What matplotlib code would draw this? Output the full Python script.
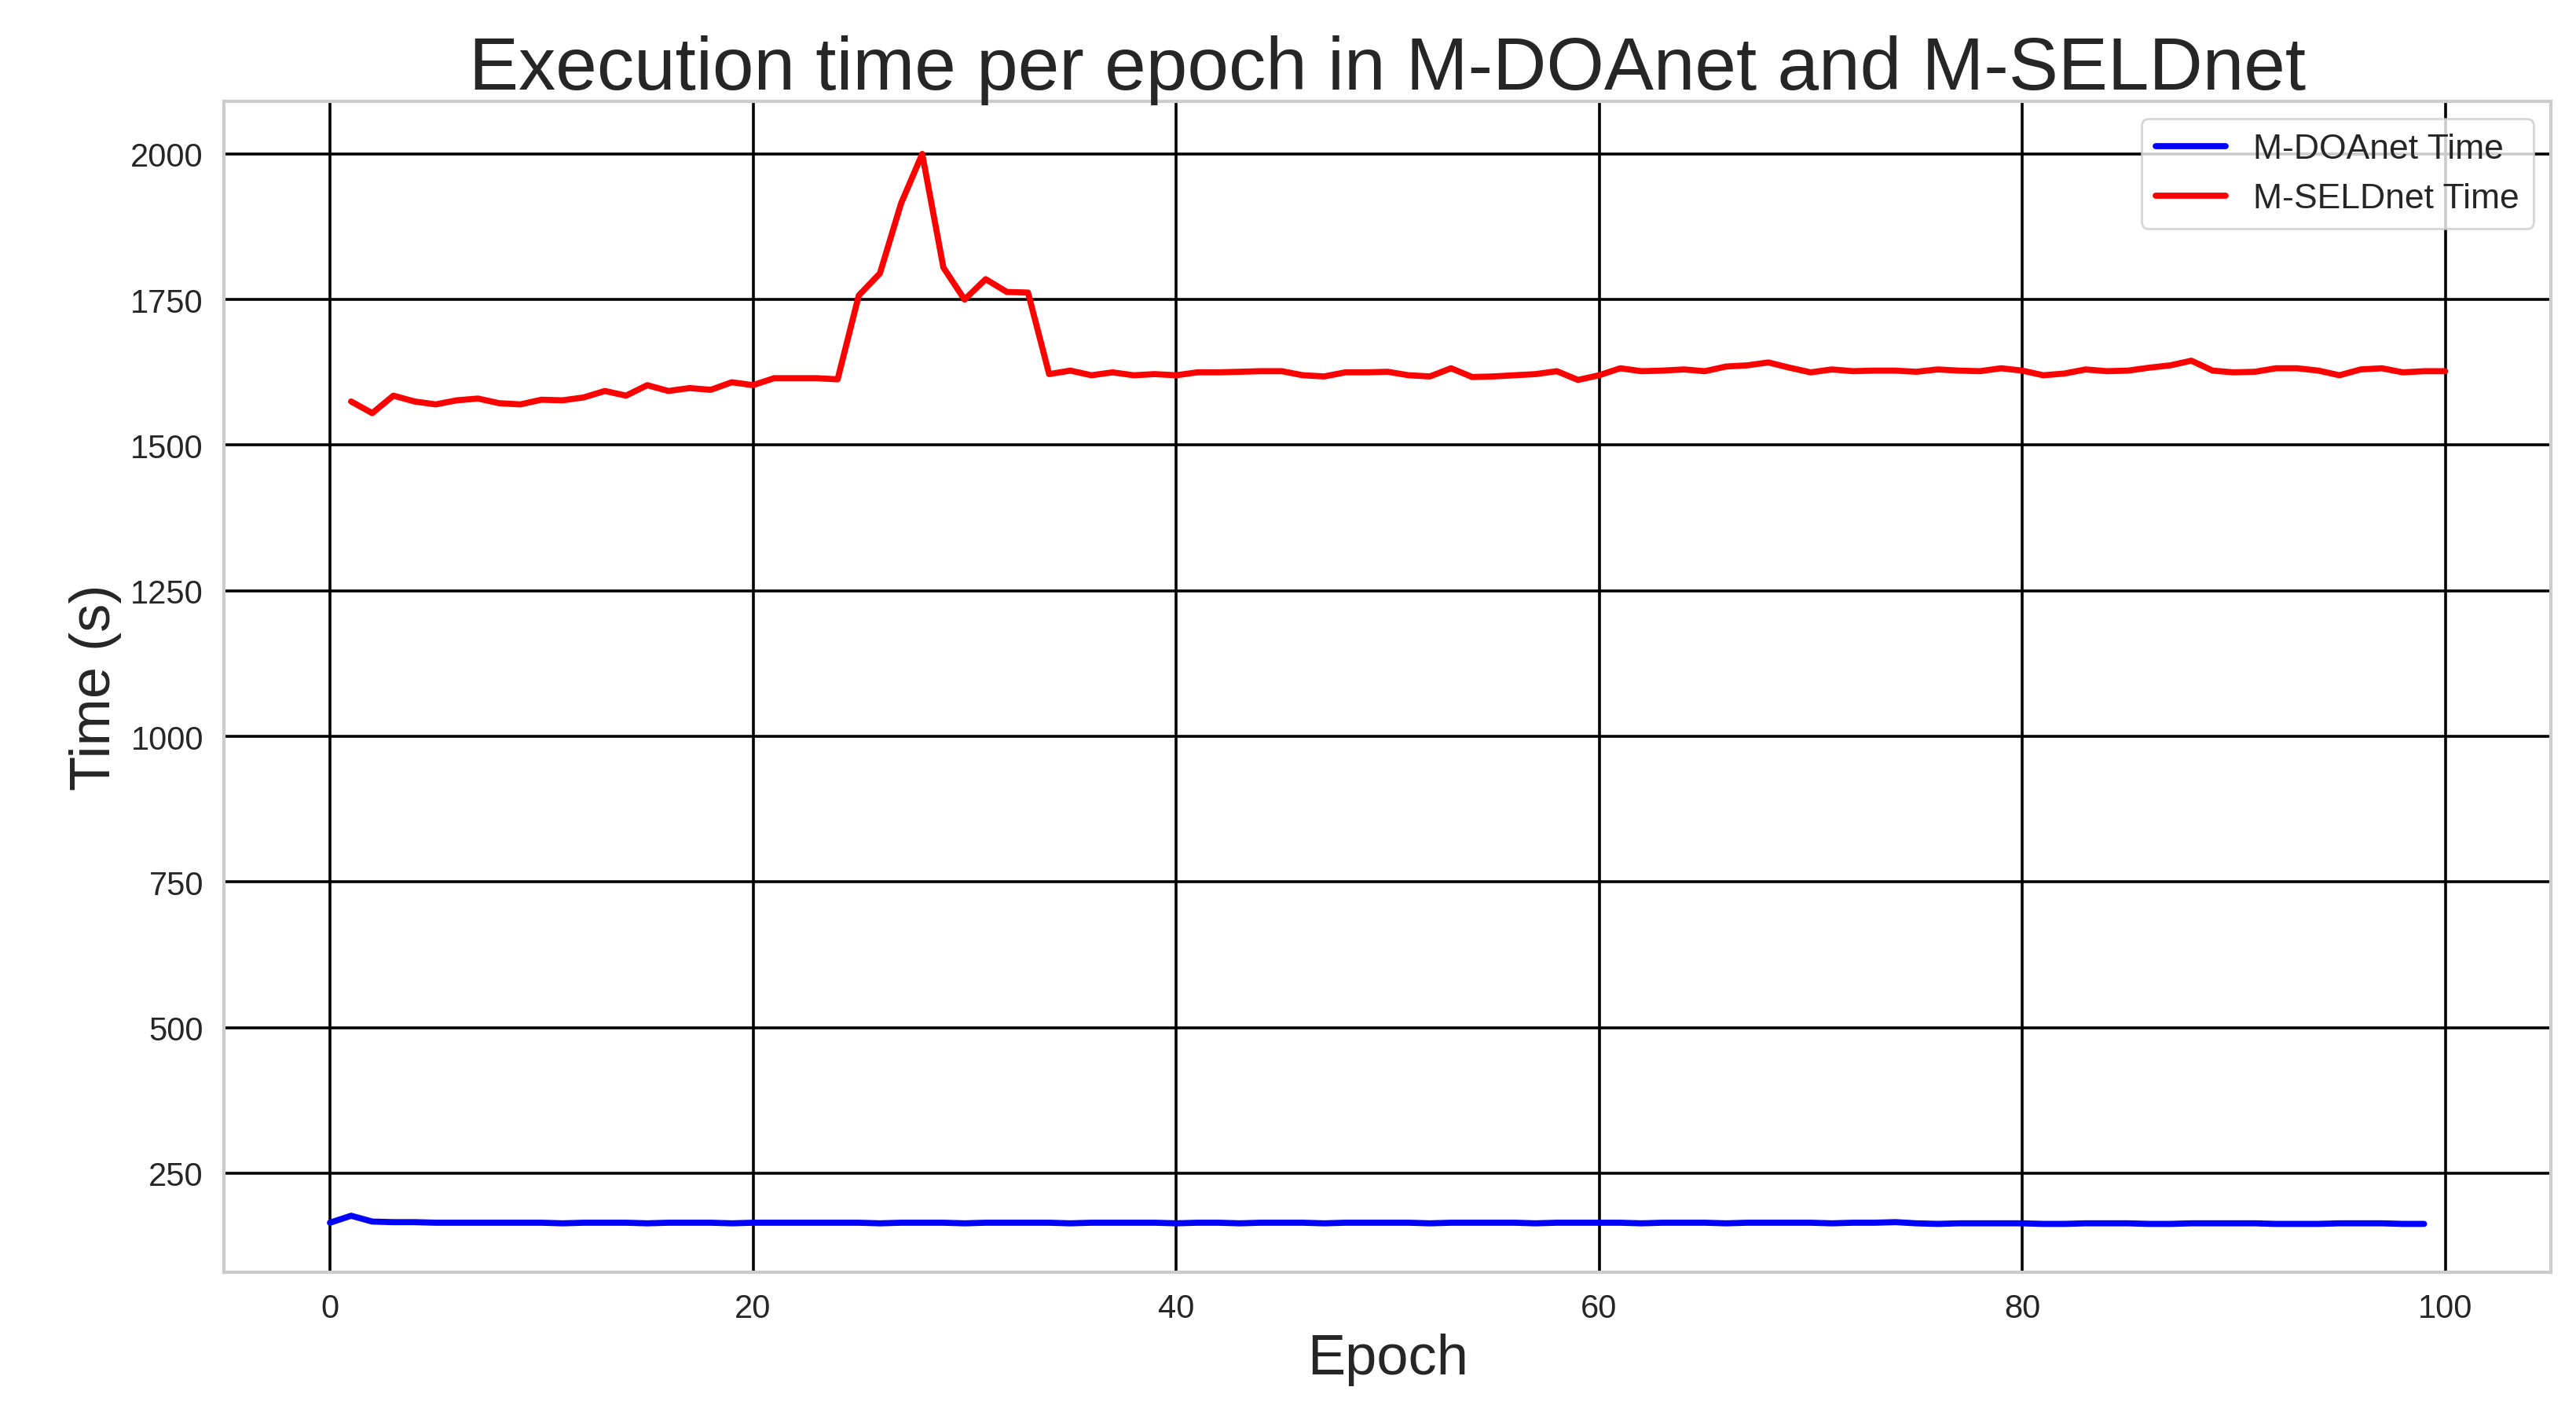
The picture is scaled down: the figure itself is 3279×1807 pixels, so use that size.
import numpy as np
import matplotlib.pyplot as plt
import seaborn as sns

sns.set_theme(style='whitegrid')
plt.rcParams['font.family'] = ['Liberation Sans', 'DejaVu Sans']

# M-DOAnet time per epoch (epochs 0..99)
doa_epochs = np.arange(0, 100)
doa_time = [165, 177, 167, 166, 166, 165, 165, 165, 165, 165,
            165, 164, 165, 165, 165, 164, 165, 165, 165, 164,
            165, 165, 165, 165, 165, 165, 164, 165, 165, 165,
            164, 165, 165, 165, 165, 164, 165, 165, 165, 165,
            164, 165, 165, 164, 165, 165, 165, 164, 165, 165,
            165, 165, 164, 165, 165, 165, 165, 164, 165, 165,
            165, 165, 164, 165, 165, 165, 164, 165, 165, 165,
            165, 164, 165, 165, 166, 164, 163, 164, 164, 164,
            164, 163, 163, 164, 164, 164, 163, 163, 164, 164,
            164, 164, 163, 163, 163, 164, 164, 164, 163, 163]

# M-SELDnet time per epoch (epochs 1..100)
seld_epochs = np.arange(1, 101)
seld_time = [1575, 1555, 1585, 1575, 1570, 1577, 1580, 1572, 1570, 1578,
             1577, 1582, 1593, 1585, 1603, 1593, 1598, 1595, 1608, 1603,
             1615, 1615, 1615, 1613, 1757, 1795, 1915, 2000, 1805, 1750,
             1785, 1763, 1762, 1622, 1628, 1620, 1625, 1620, 1622, 1620,
             1625, 1625, 1626, 1627, 1627, 1620, 1618, 1625, 1625, 1626,
             1620, 1618, 1632, 1617, 1618, 1620, 1622, 1627, 1612, 1620,
             1632, 1627, 1628, 1630, 1627, 1635, 1637, 1642, 1633, 1625,
             1630, 1627, 1628, 1628, 1626, 1630, 1628, 1627, 1632, 1628,
             1620, 1623, 1630, 1627, 1628, 1633, 1637, 1645, 1628, 1625,
             1626, 1632, 1632, 1628, 1620, 1630, 1632, 1625, 1627, 1627]

fig, ax = plt.subplots(figsize=(16.4, 9.04), dpi=200)
ax.plot(doa_epochs, doa_time, color='blue', lw=2.8, label='M-DOAnet Time')
ax.plot(seld_epochs, seld_time, color='red', lw=2.8, label='M-SELDnet Time')

ax.grid(True, color='black', lw=1.3)
for s in ax.spines.values():
    s.set_edgecolor('#cccccc')
    s.set_linewidth(1.5)
ax.set_xlim(-5, 105)
ax.set_ylim(80, 2090)
ax.set_yticks([250, 500, 750, 1000, 1250, 1500, 1750, 2000])
ax.tick_params(labelsize=15)
ax.set_title('Execution time per epoch in M-DOAnet and M-SELDnet', fontsize=34)
ax.set_xlabel('Epoch', fontsize=26)
ax.set_ylabel('Time (s)', fontsize=26)
ax.legend(loc='upper right', fontsize=16)

plt.subplots_adjust(left=0.087, right=0.99, top=0.928, bottom=0.104)
plt.savefig('out.png')
